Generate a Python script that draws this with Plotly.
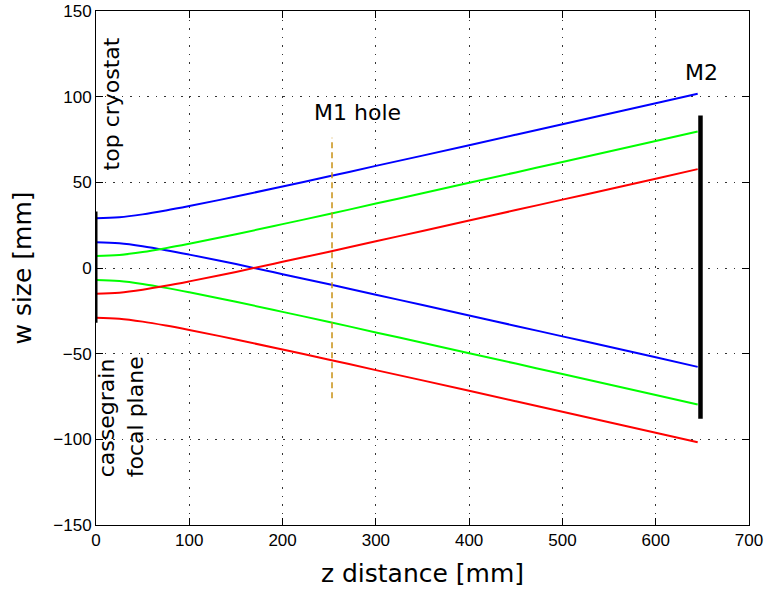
import plotly.graph_objects as go

# z positions (mm) where the beam edges were read
z = [0, 25, 50, 75, 100, 150, 200, 250, 300, 350, 400, 450, 500, 550, 600, 645]

blue_upper = [29.0, 29.6, 31.3, 33.6, 36.2, 41.7, 47.6, 53.5, 59.6, 65.6, 71.7, 77.8, 83.9, 90.0, 96.1, 101.7]
blue_lower = [15.0, 14.4, 12.7, 10.4, 7.8, 2.3, -3.6, -9.5, -15.6, -21.6, -27.7, -33.8, -39.9, -46.0, -52.1, -57.7]
green_upper = [7.0, 7.6, 9.3, 11.6, 14.2, 19.7, 25.6, 31.5, 37.6, 43.6, 49.7, 55.8, 61.9, 68.0, 74.1, 79.7]
green_lower = [-7.0, -7.6, -9.3, -11.6, -14.2, -19.7, -25.6, -31.5, -37.6, -43.6, -49.7, -55.8, -61.9, -68.0, -74.1, -79.7]
red_upper = [-15.0, -14.4, -12.7, -10.4, -7.8, -2.3, 3.6, 9.5, 15.6, 21.6, 27.7, 33.8, 39.9, 46.0, 52.1, 57.7]
red_lower = [-29.0, -29.6, -31.3, -33.6, -36.2, -41.7, -47.6, -53.5, -59.6, -65.6, -71.7, -77.8, -83.9, -90.0, -96.1, -101.7]

# optical elements
focal_plane_z = [0, 0]
focal_plane_w = [-32, 33]
m1_hole_z = [253, 253]
m1_hole_w = [-76, 76]
m2_z = [648, 648]
m2_w = [-88, 89]

x_ticks = [0, 100, 200, 300, 400, 500, 600, 700]
y_ticks = [-150, -100, -50, 0, 50, 100, 150]

fig = go.Figure()

series = [
    (blue_upper, "#0000FF"), (blue_lower, "#0000FF"),
    (green_upper, "#00FF00"), (green_lower, "#00FF00"),
    (red_upper, "#FF0000"), (red_lower, "#FF0000"),
]
for vals, col in series:
    fig.add_trace(go.Scatter(x=z, y=vals, mode="lines", line=dict(color=col, width=2),
                             line_shape="spline", showlegend=False, hoverinfo="skip"))

fig.add_trace(go.Scatter(x=focal_plane_z, y=focal_plane_w, mode="lines",
                         line=dict(color="black", width=3), showlegend=False))
fig.add_trace(go.Scatter(x=m1_hole_z, y=m1_hole_w, mode="lines",
                         line=dict(color="rgb(200,145,20)", width=1.5, dash="6px,4px"), showlegend=False))
fig.add_trace(go.Scatter(x=m2_z, y=m2_w, mode="lines",
                         line=dict(color="black", width=4.5), showlegend=False))

txt = dict(family="DejaVu Sans", size=22, color="black")
fig.add_annotation(x=17, y=96, text="top cryostat", textangle=-90, showarrow=False,
                   xanchor="center", yanchor="middle", font=txt)
fig.add_annotation(x=27, y=-87, text="cassegrain<br>focal plane", textangle=-90, showarrow=False,
                   xanchor="center", yanchor="middle", align="left", font=txt)
fig.add_annotation(x=280, y=90.5, text="M1 hole", showarrow=False,
                   xanchor="center", yanchor="middle", font=txt)
fig.add_annotation(x=649.5, y=114, text="M2", showarrow=False,
                   xanchor="center", yanchor="middle", font=txt)

axis_common = dict(
    showline=True, linecolor="black", linewidth=1, mirror="ticks",
    ticks="inside", ticklen=7, tickcolor="black",
    showgrid=True, gridcolor="#333333", griddash="1.5px,7px", gridwidth=1,
    zeroline=False, ticklabeloverflow="allow",
    tickfont=dict(family="Liberation Sans, Arial", size=17, color="black"),
)

fig.update_xaxes(range=[0, 700], tickvals=x_ticks,
                 title=dict(text="z distance [mm]", font=dict(family="DejaVu Sans", size=25, color="black"),
                            standoff=15),
                 **axis_common)
fig.update_yaxes(range=[-150, 150], tickvals=y_ticks,
                 title=dict(text="w size [mm]", font=dict(family="DejaVu Sans", size=25, color="black"),
                            standoff=14),
                 **axis_common)

fig.update_layout(
    width=770, height=593,
    margin=dict(l=96, r=21, t=11, b=68, autoexpand=False),
    paper_bgcolor="white", plot_bgcolor="white",
)

fig.write_html("out.html", config={"displayModeBar": False},
               post_script="document.body.style.margin='0px';")
